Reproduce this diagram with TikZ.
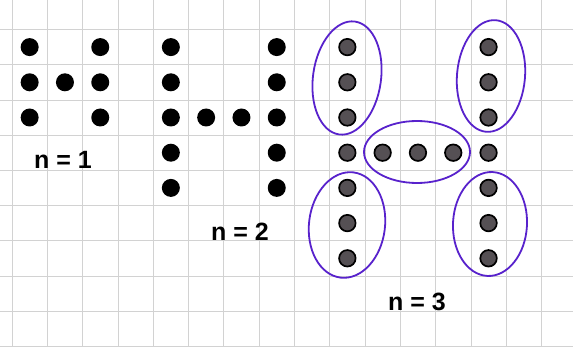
\documentclass[tikz,border=0pt]{standalone}
\usepackage{fontspec}
\setmainfont{Liberation Sans}
\usetikzlibrary{shapes.geometric}
\definecolor{gridc}{RGB}{210,210,210}
\definecolor{penc}{RGB}{88,34,204}
\definecolor{dotg}{RGB}{85,80,84}
\begin{document}
\begin{tikzpicture}[x=1pt,y=-1pt,
  gridline/.style={gridc,line width=0.7pt},
  bdot/.style={circle,fill=black,inner sep=0pt,minimum size=18pt},
  gdot/.style={circle,fill=dotg,draw=black,line width=1.7pt,inner sep=0pt,minimum size=16.5pt},
  loop/.style={ellipse,draw=penc,line width=1.8pt,inner sep=0pt},
  lab/.style={font=\fontsize{25}{25}\selectfont\bfseries,inner sep=0pt}]
\useasboundingbox (0,0) rectangle (573,347);
\fill[white] (0,0) rectangle (573,347);
% grid
\foreach \k in {0,...,15} \draw[gridline] ({12+35.3*\k},0) -- ({12+35.3*\k},347);
\foreach \k in {0,...,9} \draw[gridline] (0,{29.5+35.2*\k}) -- (573,{29.5+35.2*\k});
% n = 1
\foreach \c/\r [count=\i] in {0/0,2/0,0/1,1/1,2/1,0/2,2/2}
  \node[bdot] (a\i) at ({12+35.3*(\c+0.5)},{29.5+35.2*(\r+0.5)}) {};
% n = 2
\foreach \c/\r [count=\i] in {4/0,4/1,4/2,4/3,4/4,7/0,7/1,7/2,7/3,7/4,5/2,6/2}
  \node[bdot] (b\i) at ({12+35.3*(\c+0.5)},{29.5+35.2*(\r+0.5)}) {};
% n = 3
\foreach \r in {0,...,6} {
  \node[gdot] (cl\r) at ({12+35.3*9.5},{29.5+35.2*(\r+0.5)}) {};
  \node[gdot] (cr\r) at ({12+35.3*13.5},{29.5+35.2*(\r+0.5)}) {};
}
\foreach \c in {10,11,12}
  \node[gdot] (cm\c) at ({12+35.3*(\c+0.5)},{29.5+35.2*3.5}) {};
% loops
\node[loop,minimum width=68pt,minimum height=114pt,rotate=-8] (e1) at (347,78) {};
\node[loop,minimum width=68pt,minimum height=112pt,rotate=-5] (e2) at (491,76) {};
\node[loop,minimum width=106pt,minimum height=62pt] (e3) at (417,152) {};
\node[loop,minimum width=76pt,minimum height=106pt,rotate=-7] (e4) at (347,225) {};
\node[loop,minimum width=74pt,minimum height=104pt,rotate=-3] (e5) at (490,224) {};
% labels
\node[lab] (l1) at (63,160) {n = 1};
\node[lab] (l2) at (240,232) {n = 2};
\node[lab] (l3) at (417,302) {n = 3};
\end{tikzpicture}
\end{document}
